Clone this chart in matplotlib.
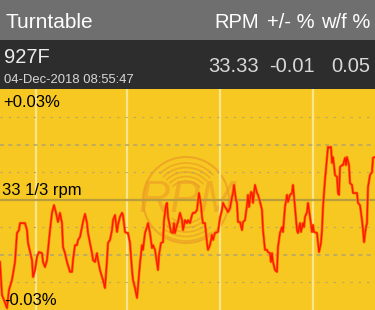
import matplotlib
matplotlib.use('Agg')
import matplotlib.pyplot as plt
from matplotlib.patches import Rectangle, Circle, Arc

# speed deviation trace, time in samples, deviation in % of 33 1/3 rpm
t = [0, 2, 4, 7, 9, 12, 15, 17, 19, 20, 22, 25, 27, 28, 32, 33, 35, 37, 39, 42,
     43, 45, 47, 50, 52, 54, 56, 58, 60, 62, 63, 65, 67, 70, 72, 73, 75, 77, 78, 80,
     82, 83, 85, 87, 88, 90, 92, 93, 95, 97, 98, 100, 102, 103, 105, 107, 108, 110, 112, 113,
     115, 117, 118, 120, 122, 123, 125, 127, 128, 130, 132, 133, 135, 137, 138, 140, 142, 143, 145, 147,
     148, 150, 152, 153, 155, 157, 158, 159, 161, 163, 164, 166, 167, 168, 170, 171, 173, 174, 175, 177,
     178, 180, 182, 183, 185, 187, 188, 190, 192, 193, 195, 197, 198, 199, 201, 202, 203, 205, 207, 208,
     210, 212, 213, 215, 218, 220, 222, 223, 225, 227, 228, 230, 232, 233, 234, 236, 237, 238, 240, 242,
     243, 245, 247, 248, 249, 251, 252, 253, 254, 255, 257, 258, 260, 262, 263, 265, 267, 268, 270, 271,
     272, 273, 275, 277, 278, 280, 282, 283, 285, 287, 288, 290, 292, 293, 295, 297, 298, 300, 301, 303,
     304, 305, 307, 308, 310, 312, 313, 314, 317, 318, 319, 321, 322, 323, 325, 327, 328, 329, 331, 332,
     333, 334, 335, 337, 338, 339, 340, 342, 343, 345, 346, 347, 349, 350, 352, 353, 355, 357, 358, 360,
     362, 363, 364, 366, 367, 368, 370, 372, 373, 375]
dev = [-0.0169, -0.0259, -0.0273, -0.0295, -0.0245, -0.0218, -0.0169, -0.0090, -0.0082, -0.0063,
       -0.0063, -0.0063, -0.0082, -0.0117, -0.0164, -0.0210, -0.0191, -0.0155, -0.0142, -0.0145,
       -0.0169, -0.0183, -0.0164, -0.0082, -0.0035, -0.0014, -0.0035, -0.0060, -0.0035, -0.0063,
       -0.0128, -0.0145, -0.0169, -0.0196, -0.0196, -0.0164, -0.0123, -0.0123, -0.0109, -0.0101,
       -0.0074, -0.0060, -0.0038, -0.0063, -0.0090, -0.0117, -0.0145, -0.0164, -0.0169, -0.0145,
       -0.0164, -0.0191, -0.0210, -0.0218, -0.0240, -0.0164, -0.0117, -0.0109, -0.0082, -0.0055,
       -0.0041, -0.0087, -0.0068, -0.0046, -0.0035, -0.0041, -0.0087, -0.0090, -0.0090, -0.0117,
       -0.0191, -0.0218, -0.0240, -0.0267, -0.0237, -0.0172, -0.0123, -0.0136, -0.0090, -0.0074,
       -0.0063, -0.0090, -0.0131, -0.0123, -0.0136, -0.0172, -0.0191, -0.0150, -0.0117, -0.0115,
       -0.0055, -0.0014, -0.0008, -0.0046, -0.0074, -0.0087, -0.0090, -0.0063, -0.0090, -0.0068,
       -0.0060, -0.0035, -0.0055, -0.0082, -0.0055, -0.0063, -0.0055, -0.0063, -0.0041, -0.0035,
       -0.0035, -0.0027, -0.0005, 0.0019, -0.0014, -0.0046, -0.0063, -0.0063, -0.0117, -0.0136,
       -0.0123, -0.0095, -0.0109, -0.0090, -0.0087, -0.0049, -0.0027, -0.0008, -0.0019, -0.0027,
       -0.0033, -0.0022, 0.0008, 0.0019, 0.0041, 0.0000, -0.0008, -0.0060, -0.0060, -0.0082,
       -0.0060, -0.0055, -0.0014, 0.0014, -0.0019, 0.0022, 0.0019, -0.0008, 0.0019, 0.0041,
       0.0019, 0.0014, -0.0005, -0.0027, -0.0082, -0.0136, -0.0136, -0.0142, -0.0145, -0.0169,
       -0.0145, -0.0169, -0.0191, -0.0196, -0.0128, -0.0090, -0.0074, -0.0087, -0.0019, 0.0014,
       -0.0005, 0.0014, 0.0019, 0.0041, -0.0019, -0.0082, -0.0090, -0.0063, -0.0087, -0.0063,
       -0.0074, -0.0046, -0.0033, -0.0008, -0.0046, -0.0087, -0.0068, -0.0087, -0.0090, -0.0117,
       -0.0142, -0.0117, -0.0082, -0.0019, 0.0055, 0.0117, 0.0145, 0.0142, 0.0145, 0.0101,
       0.0117, 0.0095, 0.0068, 0.0063, 0.0019, 0.0014, 0.0090, 0.0095, 0.0095, 0.0115,
       0.0095, 0.0117, 0.0095, 0.0046, 0.0041, 0.0019, 0.0019, 0.0019, -0.0008, -0.0014,
       -0.0055, -0.0082, -0.0115, -0.0074, -0.0063, 0.0035, 0.0068, 0.0076, 0.0115, 0.0117]

grid_dotted = [-0.0225, -0.0075, 0.0075, 0.0225]
grid_dashed = [-0.015, 0.015]
time_marks = [36, 127, 220, 313]

header_cols = ['RPM', '+/- %', 'w/f %']
header_vals = ['33.33', '-0.01', '0.05']
col_right = [259, 315, 370]

yellow = '#f6c821'
W, H = 375, 310
font = 'Liberation Sans'

fig = plt.figure(figsize=(W / 100, H / 100), dpi=100)

# background layer in pixel units (header bands, watermark, labels)
bg = fig.add_axes([0, 0, 1, 1])
bg.set_xlim(0, W)
bg.set_ylim(H, 0)
bg.axis('off')
bg.add_patch(Rectangle((0, 0), W, 40, color='#6f6f6f', lw=0))
bg.add_patch(Rectangle((0, 40), W, 49, color='#2d2d2d', lw=0))
bg.add_patch(Rectangle((0, 89), W, H - 89, color=yellow, lw=0))

# RPM watermark logo
wm = '#ec9a26'
cx, cy = 186, 200
bg.add_patch(Circle((cx, cy), 43, fill=False, ec=wm, lw=1.5, alpha=0.7))
for r in [23, 27.5, 32, 36.5, 41]:
    bg.add_patch(Arc((cx, cy), 2 * r, 2 * r, theta1=52, theta2=128, ec=wm, lw=1.2, alpha=0.65))
for r in [19, 23.5, 28, 32.5, 37]:
    bg.add_patch(Arc((cx, cy), 2 * r, 2 * r, theta1=225, theta2=318, ec=wm, lw=1.2, alpha=0.65))
bg.text(cx + 2, cy + 1, 'RPM', ha='center', va='center', fontsize=32, style='italic',
        color=wm, alpha=0.6, family=font)

# header texts
bg.text(5, 28, 'Turntable', color='white', fontsize=15, family=font, va='baseline')
for lab, val, xr in zip(header_cols, header_vals, col_right):
    bg.text(xr, 28, lab, color='white', fontsize=14.5, family=font, ha='right', va='baseline')
    bg.text(xr, 72, val, color='#d8d8d8', fontsize=14.5, family=font,
            ha='right', va='baseline')
bg.text(4, 63, '927F', color='#ececec', fontsize=14.5, family=font, va='baseline')
bg.text(4, 83, '04-Dec-2018 08:55:47', color='#d8d8d8', fontsize=9.4,
        family=font, va='baseline')

# chart layer
ax = fig.add_axes([0, 0, 1, (H - 89) / H])
ax.patch.set_alpha(0)
ax.set_xlim(0, W)
ax.set_ylim(-0.03, 0.03027)
ax.axis('off')
for x in time_marks:
    ax.axvline(x, color='#fbe48e', lw=1.6, zorder=1)
for y in grid_dotted:
    ax.axhline(y, color='#b6a66c', lw=0.8, ls=(0, (2, 5.5)), zorder=1)
for y in grid_dashed:
    ax.axhline(y, color='#b6a66c', lw=1.2, ls=(0, (2.4, 2.6)), zorder=1)
ax.axhline(0, color='#b99c3e', lw=1.6, zorder=1)
ax.plot(t, dev, color='#ff6a00', lw=1.9, zorder=3)
ax.plot(t, dev, color='#ff1400', lw=0.9, zorder=3)

# scale labels
ax.text(3, 0.0254, '+0.03%', fontsize=12, family=font, va='baseline', zorder=4)
ax.text(2, 0.0014, '33 1/3 rpm', fontsize=12, family=font, va='baseline', zorder=4)
ax.text(4, -0.0286, '-0.03%', fontsize=12, family=font, va='baseline', zorder=4)

fig.savefig('out.png', dpi=100)
